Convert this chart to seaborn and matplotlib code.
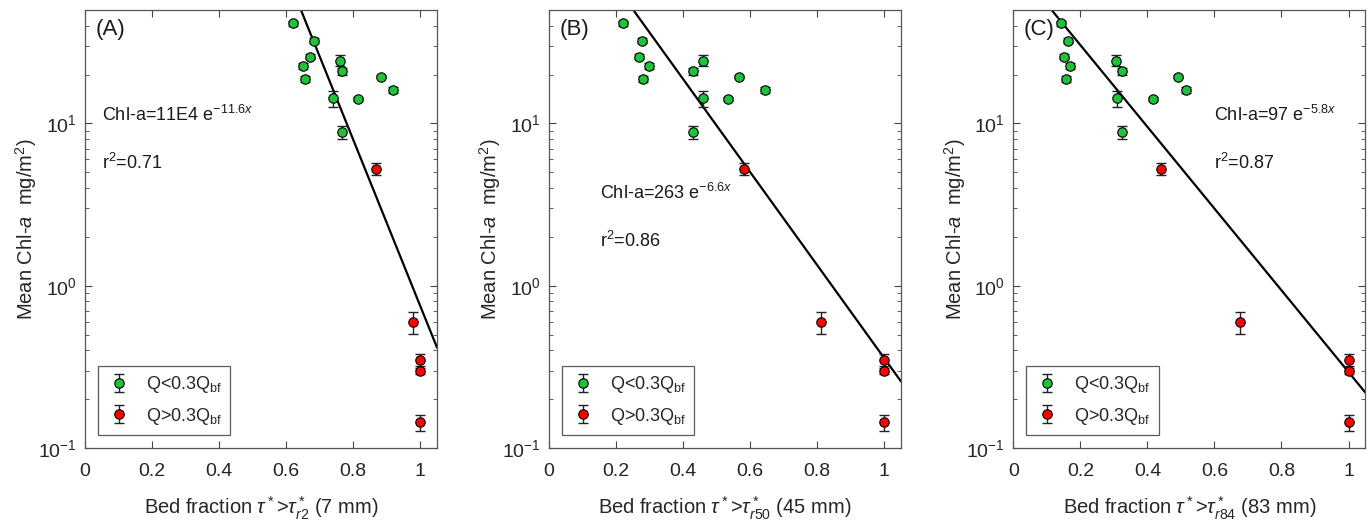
import numpy as np
import matplotlib
matplotlib.use("Agg")
import matplotlib.pyplot as plt
import seaborn as sns
from matplotlib.lines import Line2D
from matplotlib.ticker import LogLocator, LogFormatterMathtext, FixedLocator

sns.set_style("ticks")
plt.rcParams['font.family'] = ['Liberation Sans', 'DejaVu Sans']
plt.rcParams['mathtext.fontset'] = 'custom'
plt.rcParams['mathtext.rm'] = 'Liberation Sans'
plt.rcParams['mathtext.it'] = 'Liberation Sans:italic'
plt.rcParams['mathtext.bf'] = 'Liberation Sans:bold'

# ---- data ----
y_green = [41.3, 32.3, 25.8, 22.6, 18.9, 24.4, 20.9, 19.4, 16.0, 14.3, 14.2, 8.85]
err_green = [1.5, 1.2, 1.0, 0.9, 0.8, 1.9, 1.1, 0.45, 0.7, 1.6, 0.4, 0.85]
xA_green = [0.619, 0.682, 0.670, 0.649, 0.655, 0.762, 0.766, 0.884, 0.919, 0.741, 0.813, 0.766]
xB_green = [0.222, 0.278, 0.269, 0.299, 0.280, 0.460, 0.431, 0.566, 0.643, 0.460, 0.535, 0.431]
xC_green = [0.141, 0.164, 0.151, 0.169, 0.156, 0.305, 0.324, 0.491, 0.515, 0.310, 0.418, 0.324]

y_red = [5.23, 0.597, 0.35, 0.298, 0.144]
err_red = [0.45, 0.094, 0.028, 0.012, 0.016]
xA_red = [0.869, 0.978, 1.0, 1.0, 1.0]
xB_red = [0.583, 0.812, 1.0, 1.0, 1.0]
xC_red = [0.440, 0.677, 1.0, 1.0, 1.0]

fit_a = [1.0e5, 263, 97]
fit_b = [11.8, 6.6, 5.8]

panel_labels = ['(A)', '(B)', '(C)']
eq_texts = [r'Chl-a=11E4 e$^{-11.6x}$', r'Chl-a=263 e$^{-6.6x}$', r'Chl-a=97 e$^{-5.8x}$']
r2_texts = [r'r$^2$=0.71', r'r$^2$=0.86', r'r$^2$=0.87']
xlabels = [r'Bed fraction $\tau^*$>$\tau^*_{r2}$ (7 mm)',
           r'Bed fraction $\tau^*$>$\tau^*_{r50}$ (45 mm)',
           r'Bed fraction $\tau^*$>$\tau^*_{r84}$ (83 mm)']
ylabel = r'Mean Chl-$\it{a}$  mg/m$^2$)'
legend_labels = [r'Q<0.3Q$_{\rm bf}$', r'Q>0.3Q$_{\rm bf}$']
xticks = [0, 0.2, 0.4, 0.6, 0.8, 1]
xtick_labels = ['0', '0.2', '0.4', '0.6', '0.8', '1']

xs_green = [xA_green, xB_green, xC_green]
xs_red = [xA_red, xB_red, xC_red]

# text positions (data coords)
eq_pos = [(0.05, 11.25), (0.152, 3.74), (0.60, 11.25)]
r2_pos = [(0.05, 5.7), (0.152, 1.89), (0.60, 5.7)]

GREEN = '#1fc23a'
RED = '#ff0000'

fig = plt.figure(figsize=(13.7, 5.23), dpi=100)
lefts = [85 / 1370, 549 / 1370, 1013.3 / 1370]
w = 352 / 1370
bottom = 1 - 448 / 523
h = 438 / 523

for i in range(3):
    ax = fig.add_axes([lefts[i], bottom, w, h])
    ax.set_yscale('log')

    # fit line
    xl = np.linspace(0, 1.05, 200)
    yl = fit_a[i] * np.exp(-fit_b[i] * xl)
    sns.lineplot(x=xl, y=yl, ax=ax, color='black', lw=1.6, zorder=2)

    # error bars
    eg = ax.errorbar(xs_green[i], y_green, yerr=err_green, fmt='none',
                     ecolor='#222222', elinewidth=1.0, capsize=3.5, capthick=1.0, zorder=3)
    er = ax.errorbar(xs_red[i], y_red, yerr=err_red, fmt='none',
                     ecolor='#222222', elinewidth=1.0, capsize=3.5, capthick=1.0, zorder=3)
    # markers
    sns.scatterplot(x=xs_green[i], y=y_green, ax=ax, color=GREEN, s=46,
                    edgecolor='black', linewidth=0.8, zorder=4)
    sns.scatterplot(x=xs_red[i], y=y_red, ax=ax, color=RED, s=46,
                    edgecolor='black', linewidth=0.8, zorder=4)

    ax.set_xlim(0, 1.05)
    ax.set_ylim(0.1, 50)
    ax.xaxis.set_major_locator(FixedLocator(xticks))
    ax.set_xticklabels(xtick_labels)
    ax.yaxis.set_major_locator(LogLocator(base=10, numticks=10))
    ax.yaxis.set_major_formatter(LogFormatterMathtext())
    ax.yaxis.set_minor_locator(LogLocator(base=10, subs=np.arange(2, 10), numticks=20))
    ax.tick_params(axis='both', which='both', direction='in', top=True, right=True,
                   color='#444444', labelsize=14, labelcolor='#262626')
    ax.tick_params(axis='x', which='major', length=5, width=0.8, pad=10.5)
    ax.tick_params(axis='y', which='major', length=5, width=0.8, pad=6)
    ax.tick_params(axis='y', which='minor', length=3, width=0.6, labelleft=False)
    for sp in ax.spines.values():
        sp.set_color('#555555')
        sp.set_linewidth(0.9)

    ax.set_xlabel(xlabels[i], fontsize=14.5, color='#262626', labelpad=11)
    ax.set_ylabel(ylabel, fontsize=14.5, color='#262626', labelpad=-1)

    ax.text(0.03, 0.955, panel_labels[i], transform=ax.transAxes, fontsize=16,
            ha='left', va='center', color='#1a1a1a')
    ax.text(eq_pos[i][0], eq_pos[i][1], eq_texts[i], fontsize=13, ha='left',
            va='center', color='#1a1a1a')
    ax.text(r2_pos[i][0], r2_pos[i][1], r2_texts[i], fontsize=13, ha='left',
            va='center', color='#1a1a1a')

    hg = Line2D([], [], ls='none', marker='o', markersize=6.8, markerfacecolor=GREEN,
                markeredgecolor='black', markeredgewidth=0.8)
    hr = Line2D([], [], ls='none', marker='o', markersize=6.8, markerfacecolor=RED,
                markeredgecolor='black', markeredgewidth=0.8)
    leg = ax.legend([(eg, hg), (er, hr)], legend_labels, loc='lower left',
                    bbox_to_anchor=(0.037, 0.03), fontsize=13, frameon=True,
                    fancybox=False, edgecolor='#333333', handlelength=1.4,
                    handletextpad=0.8, borderpad=0.45, labelspacing=0.6,
                    borderaxespad=0.0)
    leg.get_frame().set_linewidth(0.9)

fig.savefig('out.png', dpi=100)
